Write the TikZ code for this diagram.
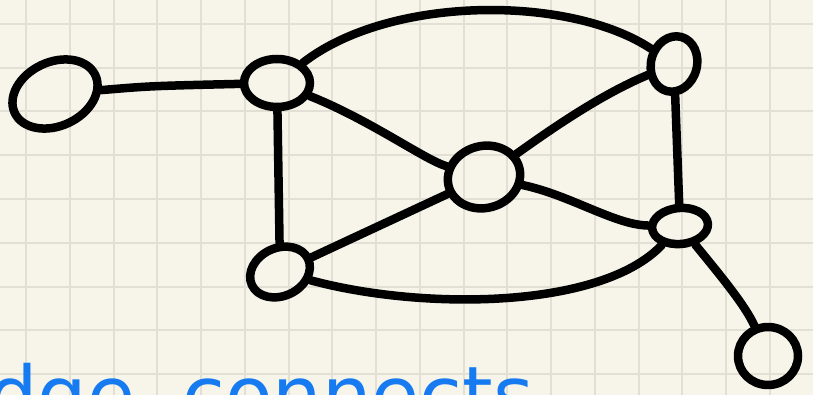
\documentclass[tikz,border=0pt]{standalone}
\usepackage{fontspec}
\newfontfamily\handfont{DejaVu Sans}[WordSpace=1.9]
\usetikzlibrary{shapes.geometric}
\definecolor{paper}{RGB}{247,245,234}
\definecolor{gridline}{RGB}{226,224,212}
\definecolor{inkblue}{RGB}{22,122,240}

\begin{document}
\begin{tikzpicture}[x=1pt, y=-1pt, line cap=round, line join=round,
  vertex/.style={ellipse, draw, line width=8.5pt, inner sep=0pt},
  link/.style={line width=8.5pt}]
  % Paper sheet with squared grid
  \useasboundingbox (0,0) rectangle (813,395);
  \fill[paper] (0,0) rectangle (813,395);
  \clip (0,0) rectangle (813,395);
  \foreach \i in {0,...,17}
    \draw[gridline, line width=2pt] ({26+43.75*\i},0) -- ({26+43.75*\i},395);
  \foreach \j in {0,...,8}
    \draw[gridline, line width=2pt] (0,{24+43.75*\j}) -- (813,{24+43.75*\j});
  % Vertices
  \node[vertex, minimum width=89pt, minimum height=64pt, rotate=25] (a) at (55,94) {};
  \node[vertex, minimum width=66pt, minimum height=48pt] (b) at (277,83) {};
  \node[vertex, minimum width=46pt, minimum height=56pt, rotate=-15] (c) at (674,64) {};
  \node[vertex, minimum width=73pt, minimum height=62pt, rotate=15] (d) at (484,177) {};
  \node[vertex, minimum width=62pt, minimum height=48pt, rotate=25] (e) at (280,272) {};
  \node[vertex, minimum width=56pt, minimum height=36pt, rotate=5] (f) at (680,226) {};
  \node[vertex, minimum width=60pt, minimum height=58pt] (g) at (768,356) {};
  % Edges
  \draw[link] (a) .. controls (150,86) .. (b);
  \draw[link] (b) .. controls (390,-5) and (570,-5) .. (c);
  \draw[link] (b) -- (e);
  \draw[link] (b) .. controls (370,120) and (425,160) .. (d);
  \draw[link] (c) .. controls (600,95) and (550,130) .. (d);
  \draw[link] (c) -- (f);
  \draw[link] (d) -- (e);
  \draw[link] (d) .. controls (570,195) and (615,225) .. (f);
  \draw[link] (e) .. controls (420,310) and (600,310) .. (f);
  \draw[link] (f) .. controls (720,275) and (745,305) .. (g);
  % Handwritten note, cut by the sheet edge
  \node[anchor=base west, inkblue, inner sep=0pt,
    font=\handfont\fontsize{78}{84}\selectfont] (note) at (-60,422) {edge connects};
\end{tikzpicture}
\end{document}
